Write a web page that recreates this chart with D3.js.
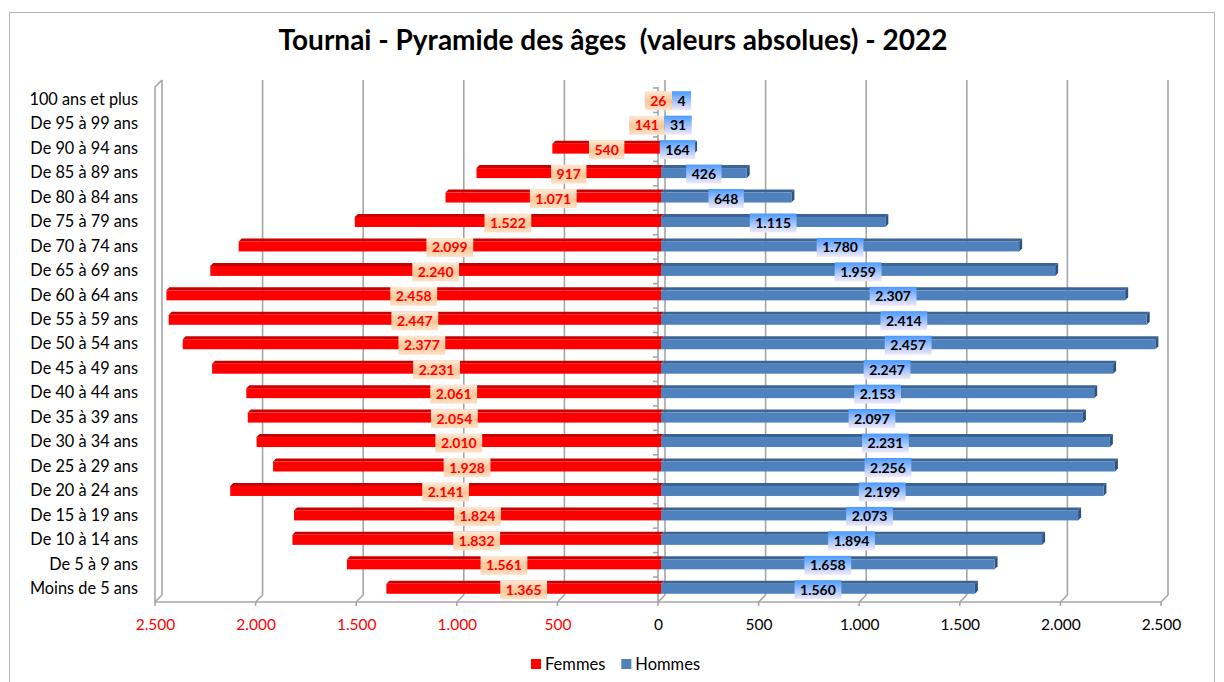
<!DOCTYPE html>
<html><head><meta charset="utf-8">
<script src="https://cdn.jsdelivr.net/npm/d3@7/dist/d3.min.js"></script>
<style>
html,body{margin:0;padding:0;background:#fff;}
svg text{font-family:Lato,"Open Sans",sans-serif;}
</style></head>
<body><svg id="c" width="1224" height="682"></svg>
<script>
const categories = ["Moins de 5 ans","De 5 à 9 ans","De 10 à 14 ans","De 15 à 19 ans","De 20 à 24 ans","De 25 à 29 ans","De 30 à 34 ans","De 35 à 39 ans","De 40 à 44 ans","De 45 à 49 ans","De 50 à 54 ans","De 55 à 59 ans","De 60 à 64 ans","De 65 à 69 ans","De 70 à 74 ans","De 75 à 79 ans","De 80 à 84 ans","De 85 à 89 ans","De 90 à 94 ans","De 95 à 99 ans","100 ans et plus"];
const femmes = [1365,1561,1832,1824,2141,1928,2010,2054,2061,2231,2377,2447,2458,2240,2099,1522,1071,917,540,141,26];
const hommes = [1560,1658,1894,2073,2199,2256,2231,2097,2153,2247,2457,2414,2307,1959,1780,1115,648,426,164,31,4];
const xTicks = [-2500,-2000,-1500,-1000,-500,0,500,1000,1500,2000,2500];
const seriesNames = ["Femmes","Hommes"];
const title = "Tournai - Pyramide des âges  (valeurs absolues) - 2022";

const svg = d3.select("#c");
const loc = d3.formatLocale({decimal:",",thousands:".",grouping:[3],currency:["","€"]});
const fmt = loc.format(",d");

// layout
const floorY = 602, topY = 87, DX = 7, DY = -7;   // chart depth
const bdx = 3, bdy = -3;                            // bar depth
const x = d3.scaleLinear().domain([-2500,2500]).range([155,1161]);
const y = d3.scaleBand().domain(categories).range([600.5, 87]).padding(0);
const cy = c => y(c) + y.bandwidth()/2 + 0.5;

const defs = svg.append("defs");
const gF = defs.append("linearGradient").attr("id","gF").attr("x1",0).attr("y1",0).attr("x2",0).attr("y2",1);
gF.append("stop").attr("offset","0%").attr("stop-color","#FDE9D6");
gF.append("stop").attr("offset","55%").attr("stop-color","#F9C596");
gF.append("stop").attr("offset","100%").attr("stop-color","#FDE3C8");
const gH = defs.append("linearGradient").attr("id","gH").attr("x1",0).attr("y1",0).attr("x2",0).attr("y2",1);
gH.append("stop").attr("offset","0%").attr("stop-color","#4A9AFF");
gH.append("stop").attr("offset","100%").attr("stop-color","#F2EAF8");

// outer border
svg.append("rect").attr("x",9.5).attr("y",12.5).attr("width",1205).attr("height",680)
  .attr("fill","#fff").attr("stroke","#B4B4B4").attr("stroke-width",1);

// title
svg.append("text").attr("x",613).attr("y",50).attr("text-anchor","middle")
  .style("white-space","pre")
  .attr("font-size",28).attr("font-weight","bold").attr("fill","#000").text(title);

const grid = svg.append("g").attr("stroke","#A6A6A6").attr("stroke-width",1.6).attr("fill","none");
xTicks.forEach(t => {
  grid.append("line").attr("x1",x(t)+DX).attr("x2",x(t)+DX).attr("y1",floorY+DY).attr("y2",topY+DY);
  grid.append("line").attr("x1",x(t)).attr("y1",floorY).attr("x2",x(t)+DX).attr("y2",floorY+DY);
  grid.append("line").attr("x1",x(t)).attr("x2",x(t)).attr("y1",floorY).attr("y2",floorY+4);
});
grid.append("path").attr("d",`M${x(-2500)},${floorY} L${x(-2500)},${topY} L${x(-2500)+DX},${topY+DY}`);
grid.append("line").attr("x1",x(-2500)).attr("x2",x(2500)).attr("y1",floorY).attr("y2",floorY);

// category axis at 0
const cat = svg.append("g").attr("stroke","#A6A6A6").attr("stroke-width",1.6);
cat.append("line").attr("x1",x(0)).attr("x2",x(0)).attr("y1",topY).attr("y2",floorY);
categories.forEach(c => {
  cat.append("line").attr("x1",x(0)-5).attr("x2",x(0)).attr("y1",y(c)+1).attr("y2",y(c)+1);
});

// bars
const bars = svg.append("g");
const h = 10;
function bar(val, c, side){
  const yc = cy(c);
  const y0 = yc - h/2, y1 = yc + h/2;
  const xa = x(0)+bdx, xb = x(side*val)+bdx;
  const xl = Math.min(xa,xb), xr = Math.max(xa,xb);
  const col = side<0 ? {front:"#FF0000", top:"#C80000", side:"#B00000"} : {front:"#4F81BD", top:"#3A6496", side:"#2E5180"};
  bars.append("path").attr("d",`M${xl},${y0} L${xl+bdx},${y0+bdy} L${xr+bdx},${y0+bdy} L${xr},${y0} Z`).attr("fill",col.top);
  if (side>0) bars.append("path").attr("d",`M${xr},${y0} L${xr+bdx},${y0+bdy} L${xr+bdx},${y1+bdy} L${xr},${y1} Z`).attr("fill",col.side);
  bars.append("rect").attr("x",xl).attr("y",y0).attr("width",Math.max(0,xr-xl)).attr("height",h).attr("fill",col.front);
}
categories.forEach((c,i) => { bar(femmes[i], c, -1); });
categories.forEach((c,i) => { bar(hommes[i], c, 1); });

// data labels
const lab = svg.append("g").attr("font-size",14).attr("font-weight","bold");
const pad = 5.5, bh = 19;
categories.forEach((c,i) => {
  const yc = cy(c) + 1;
  const tf = lab.append("text").attr("text-anchor","middle").attr("fill","#FF0000").text(fmt(femmes[i]));
  const wf = tf.node().getComputedTextLength() + 2*pad;
  let cxf = (x(0) + x(-femmes[i]))/2 + bdx;
  const rf = cxf + wf/2;
  const th = lab.append("text").attr("text-anchor","middle").attr("fill","#000").text(fmt(hommes[i]));
  const wh = th.node().getComputedTextLength() + 2*pad;
  let cxh = (x(0) + x(hommes[i]))/2 + bdx;
  if (cxh - wh/2 < rf) cxh = rf + wh/2;
  lab.insert("rect","text").attr("x",cxf-wf/2).attr("y",yc-bh/2).attr("width",wf).attr("height",bh).attr("fill","url(#gF)");
  lab.insert("rect","text").attr("x",cxh-wh/2).attr("y",yc-bh/2).attr("width",wh).attr("height",bh).attr("fill","url(#gH)");
  tf.attr("x",cxf).attr("y",yc).attr("dy","0.36em");
  th.attr("x",cxh).attr("y",yc).attr("dy","0.36em");
});

// x axis labels
const xa = svg.append("g").attr("transform",`translate(0,${floorY})`)
  .call(d3.axisBottom(x).tickValues(xTicks).tickSize(0).tickPadding(17).tickFormat(d => fmt(Math.abs(d))));
xa.select(".domain").remove();
xa.selectAll("text").attr("font-size",15.5).attr("font-family","Lato, sans-serif")
  .attr("fill", d => d<0 ? "#FF0000" : "#000");

// y axis labels
const ya = svg.append("g").attr("transform",`translate(140,0)`)
  .call(d3.axisLeft(y).tickSize(0).tickPadding(2));
ya.select(".domain").remove();
ya.selectAll(".tick").attr("transform", d => `translate(0,${cy(d)})`);
ya.selectAll("text").attr("font-size",16.3).attr("font-family","Lato, sans-serif").attr("fill","#000");

// legend
const leg = svg.append("g").attr("transform","translate(531,664)");
const lcol = ["#FF0000","#4F81BD"];
let lxp = 0;
seriesNames.forEach((n,i) => {
  leg.append("rect").attr("x",lxp).attr("y",-5).attr("width",10).attr("height",10).attr("fill",lcol[i]);
  const t = leg.append("text").attr("x",lxp+14).attr("y",0).attr("dy","0.35em").attr("font-size",16.5).attr("fill","#000").text(n);
  lxp += 14 + t.node().getComputedTextLength() + 16;
});
</script></body></html>
